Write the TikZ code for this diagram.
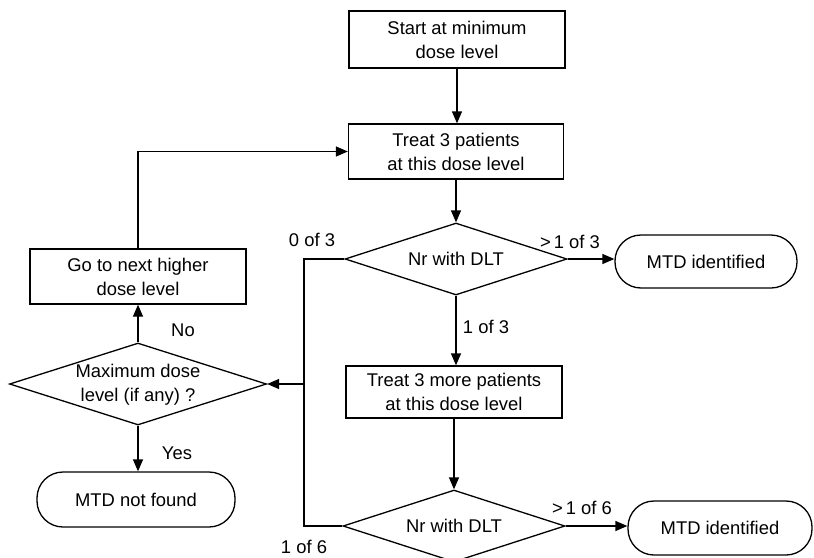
\documentclass[tikz,border=0pt]{standalone}
\usepackage{fontspec}
\setmainfont{Liberation Sans}
\usetikzlibrary{shapes.geometric,arrows.meta}
\begin{document}
\begin{tikzpicture}[x=1pt,y=-1pt,
  every node/.style={font=\fontsize{18.4}{24}\selectfont},
  box/.style={draw,line width=1.3pt,rectangle,align=center,inner sep=0pt},
  term/.style={draw,line width=1.3pt,rectangle,rounded corners=26pt,align=center,inner sep=0pt},
  dia/.style={draw,line width=1.3pt,diamond,aspect=3,inner sep=0pt,align=center},
  lbl/.style={inner sep=0pt},
  conn/.style={line width=1.3pt},
  arr/.style={line width=1.3pt,-{Triangle[length=12pt,width=10pt]}}]
\useasboundingbox (0,0) rectangle (814,557);
\clip (0,0) rectangle (814,557);
\node[box,minimum width=216,minimum height=57] (start) at (457,39.5) {Start at minimum\\dose level};
\node[box,minimum width=215,minimum height=55] (treat) at (456,151.5) {Treat 3 patients\\at this dose level};
\node[dia,minimum width=222,minimum height=72] (d1) at (456,259) {Nr with DLT};
\node[term,minimum width=182,minimum height=53] (mtd1) at (706,261.5) {MTD identified};
\node[box,minimum width=216,minimum height=52] (more) at (454,392) {Treat 3 more patients\\at this dose level};
\node[dia,minimum width=222,minimum height=72] (d2) at (454,526) {Nr with DLT};
\node[term,minimum width=184,minimum height=54] (mtd2) at (720,528) {MTD identified};
\node[box,minimum width=216,minimum height=55] (go) at (138,276.5) {Go to next higher\\dose level};
\node[dia,minimum width=257,minimum height=82] (d3) at (138,384) {};
\node[lbl,align=center] (d3t) at (138,385) {Maximum dose\\level (if any) ?};
\node[term,minimum width=198,minimum height=55] (nf) at (136,499.5) {MTD not found};
\coordinate (j1) at (304,259);
\coordinate (j2) at (304,526);
\coordinate (j3) at (304,384);
\draw[arr] (start.south) -- (start.south |- treat.north);
\draw[arr] (treat.south) -- (treat.south |- d1.north);
\draw[arr] (d1.east) -- (mtd1.west |- d1.east);
\draw[arr] (d1.south) -- (d1.south |- more.north);
\draw[arr] (more.south) -- (more.south |- d2.north);
\draw[arr] (d2.east) -- (mtd2.west |- d2.east);
\draw[conn] (d1.west) -- (j1) -- (j2) -- (d2.west);
\draw[arr] (j3) -- (d3.east);
\draw[arr] (d3.north) -- (go.south);
\draw[arr] (d3.south) -- (d3.south |- nf.north);
\draw[arr] (go.north) |- (treat.west);
\node[lbl] (l1) at (570,242) {>\,1 of 3};
\node[lbl] (l2) at (486,327) {1 of 3};
\node[lbl] (l3) at (582,508) {>\,1 of 6};
\node[lbl] (l4) at (312,240) {0 of 3};
\node[lbl] (l5) at (304,547) {1 of 6};
\node[lbl] (l6) at (183,330) {No};
\node[lbl] (l7) at (177,453) {Yes};
\end{tikzpicture}
\end{document}
